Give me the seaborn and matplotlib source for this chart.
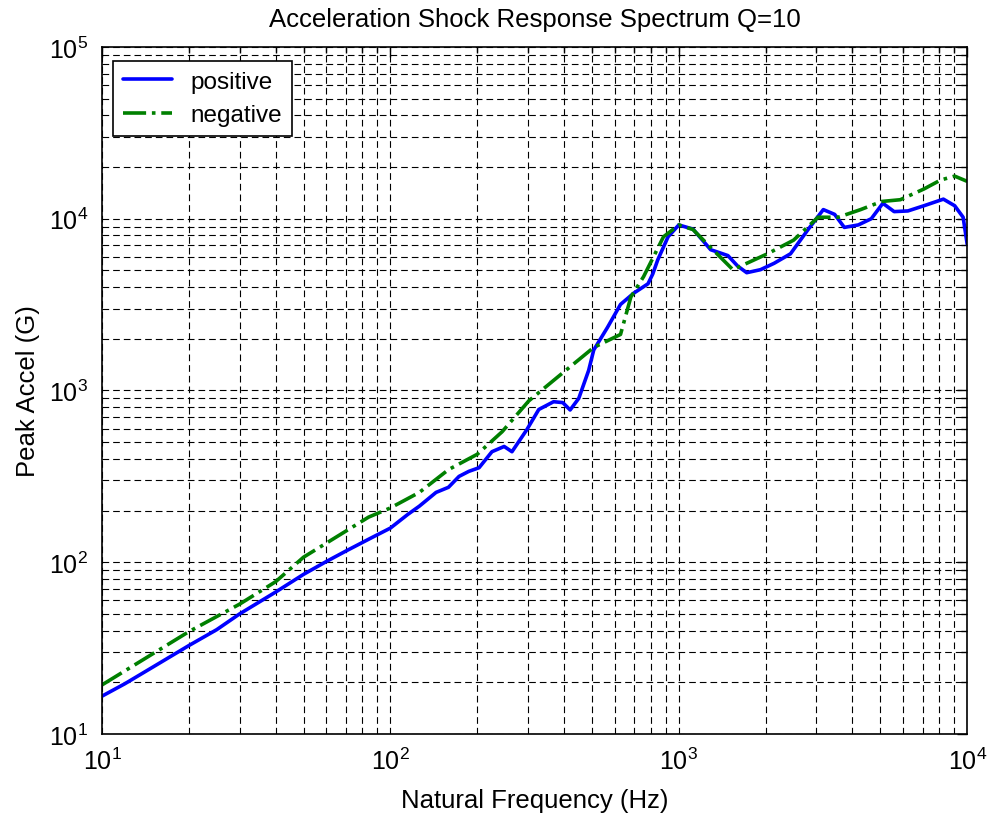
import numpy as np
import pandas as pd
import matplotlib
matplotlib.use("Agg")
import matplotlib.pyplot as plt
import matplotlib.ticker as mticker
import seaborn as sns

# values
pos_freq = [10, 12, 15, 20, 25, 30, 40, 50, 60, 70, 84, 100, 115, 126, 144, 159,
            173, 187, 203, 225, 248, 264, 297, 327, 368, 396, 420, 450, 487, 507,
            566, 628, 697, 782, 812, 845, 918, 1000, 1120, 1290, 1480, 1600, 1720,
            1920, 2140, 2440, 2800, 3170, 3470, 3750, 4190, 4650, 5100, 5580, 6230,
            7080, 8270, 9050, 9680, 10000]
pos_accel = [16.6, 19.6, 24.5, 32.7, 40.5, 50, 67, 85, 101, 116, 136, 158, 190, 212,
             255, 273, 316, 338, 355, 440, 472, 440, 590, 775, 860, 850, 770, 900,
             1310, 1720, 2330, 3170, 3680, 4180, 4760, 5750, 7850, 9200, 8700, 6600,
             6100, 5300, 4850, 5050, 5500, 6250, 8600, 11300, 10600, 8900, 9200,
             10000, 12300, 11000, 11100, 11900, 13000, 11900, 10200, 7100]

neg_freq = [10, 20, 30, 40, 50, 84, 100, 126, 159, 200, 244, 302, 390, 507, 628, 682,
            755, 885, 1000, 1120, 1290, 1540, 1720, 2030, 2500, 3040, 3570, 4270,
            5050, 5860, 7080, 8090, 9050, 10000]
neg_accel = [19.3, 39.4, 57, 77, 107, 183, 207, 255, 346, 425, 575, 870, 1240, 1780,
             2120, 3500, 4600, 7850, 9200, 8650, 6800, 5050, 5500, 6250, 7500,
             10200, 10200, 11300, 12600, 12900, 14900, 16800, 17700, 16500]

sns.set_style("white")
plt.rcParams['font.family'] = ['Liberation Sans', 'DejaVu Sans']
plt.rcParams['mathtext.default'] = 'regular'
plt.rcParams['text.color'] = 'black'
plt.rcParams['axes.labelcolor'] = 'black'

df_pos = pd.DataFrame({'freq': pos_freq, 'accel': pos_accel})
df_neg = pd.DataFrame({'freq': neg_freq, 'accel': neg_accel})

fig = plt.figure(figsize=(9.92, 8.2), dpi=100)
ax = fig.add_axes([0.1028, 0.1037, 0.8722, 0.8378])

sns.lineplot(data=df_pos, x='freq', y='accel', ax=ax, color='#0000ff',
             linewidth=2.6, estimator=None, sort=False, label='positive')
sns.lineplot(data=df_neg, x='freq', y='accel', ax=ax, color='#008000',
             linewidth=2.6, linestyle='-.', estimator=None, sort=False,
             label='negative')

ax.set_xscale('log')
ax.set_yscale('log')
ax.set_xlim(10, 1e4)
ax.set_ylim(10, 1e5)

ax.xaxis.set_minor_locator(mticker.LogLocator(base=10, subs=np.arange(2, 10)))
ax.yaxis.set_minor_locator(mticker.LogLocator(base=10, subs=np.arange(2, 10)))
ax.xaxis.set_minor_formatter(mticker.NullFormatter())
ax.yaxis.set_minor_formatter(mticker.NullFormatter())

ax.grid(True, which='both', color='black', linestyle=(0, (6, 3.6)), linewidth=0.8)
ax.set_axisbelow(True)

ax.tick_params(which='both', direction='in', top=True, right=True,
               labelsize=18, colors='black')
ax.tick_params(which='major', length=7, width=1)
ax.tick_params(which='minor', length=4, width=1)
ax.tick_params(axis='x', which='major', pad=10)
ax.tick_params(axis='y', which='major', pad=10)
for s in ax.spines.values():
    s.set_color('black')
    s.set_linewidth(1.2)

ax.set_title('Acceleration Shock Response Spectrum Q=10', fontsize=18.5, pad=15)
ax.set_xlabel('Natural Frequency (Hz)', fontsize=18.5, labelpad=10)
ax.set_ylabel('Peak Accel (G)', fontsize=18.5, labelpad=6)

leg = ax.legend(loc='upper left', bbox_to_anchor=(0.0127, 0.98), borderaxespad=0,
                fontsize=17.5, fancybox=False, framealpha=1, edgecolor='black',
                handlelength=2.0, handletextpad=0.75, borderpad=0.42,
                labelspacing=0.46)
leg.get_frame().set_linewidth(1.2)

fig.savefig('out.png', dpi=100)
